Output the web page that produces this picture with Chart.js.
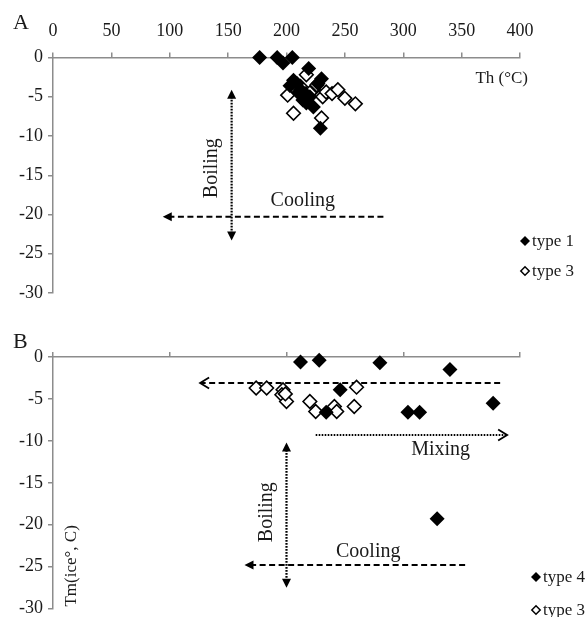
<!DOCTYPE html>
<html>
<head>
<meta charset="utf-8">
<script src="https://cdn.jsdelivr.net/npm/chart.js@4.4.1/dist/chart.umd.min.js"></script>
<style>
  body { margin: 0; background: #fff; }
  #wrap { position: relative; width: 587px; height: 617px; }
  canvas { position: absolute; left: 0; }
</style>
</head>
<body>
<div id="wrap">
  <canvas id="chartA" width="587" height="304" style="top:0"></canvas>
  <canvas id="chartB" width="587" height="313" style="top:304px"></canvas>
</div>
<script>
// Panel A: Th (°C) vs Tm(ice)
const aType1Th = [177, 192, 197, 205, 206, 203, 209, 212, 214, 217, 220, 223, 227, 219, 230, 229, 216, 210];
const aType1Tm = [0, 0, -0.7, 0, -2.9, -3.6, -3.3, -4.1, -5.4, -5.8, -5.0, -6.3, -3.3, -1.4, -2.7, -9.0, -4.6, -4.5];
const aType3Th = [201, 206, 212, 217, 223, 226, 231, 234, 239, 244, 250, 259, 230, 220];
const aType3Tm = [-4.8, -7.1, -3.7, -2.2, -4.1, -3.5, -5.0, -4.4, -4.6, -4.1, -5.2, -5.9, -7.7, -4.5];

// Panel B
const bType4Th = [212, 228, 280, 340, 246, 234, 304, 314, 377, 329];
const bType4Tm = [-0.6, -0.4, -0.7, -1.5, -3.9, -6.6, -6.6, -6.6, -5.5, -19.3];
const bType3Th = [174, 183, 197, 196, 200, 220, 225, 241, 243, 260, 258, 199];
const bType3Tm = [-3.7, -3.7, -3.9, -4.5, -5.3, -5.3, -6.5, -5.9, -6.5, -3.6, -5.9, -4.4];

const thTicksA = [0, 50, 100, 150, 200, 250, 300, 350, 400];
const thTicksB = [0, 100, 200, 300, 400];
const tmTicks = [0, -5, -10, -15, -20, -25, -30];

const FONT = '"Liberation Serif", "Times New Roman", serif';
const GREY = '#8c8c8c';
const INK = '#1a1a1a';

const pts = (xs, ys) => xs.map((x, i) => ({ x: x, y: ys[i] }));

function filledSet(label, data) {
  return { label, data, pointStyle: 'rectRot', pointRadius: 7.5, backgroundColor: '#000', borderColor: '#000', borderWidth: 0, showLine: false, clip: false };
}
function openSet(label, data) {
  return { label, data, pointStyle: 'rectRot', pointRadius: 6.8, backgroundColor: '#fff', borderColor: '#000', borderWidth: 1.6, showLine: false, clip: false };
}

function arrowHead(ctx, x, y, ang, kind) {
  const len = 9, half = 4.5;
  ctx.save();
  ctx.translate(x, y);
  ctx.rotate(ang);
  ctx.setLineDash([]);
  ctx.beginPath();
  if (kind === 'tri') {
    ctx.moveTo(0, 0); ctx.lineTo(-len, -half); ctx.lineTo(-len, half); ctx.closePath(); ctx.fill();
  } else {
    ctx.lineWidth = 1.8;
    ctx.moveTo(-len, -half - 1); ctx.lineTo(0, 0); ctx.lineTo(-len, half + 1); ctx.stroke();
  }
  ctx.restore();
}

function drawArrow(ctx, sx, sy, a) {
  const x1 = sx.getPixelForValue(a.from[0]), y1 = sy.getPixelForValue(a.from[1]);
  const x2 = sx.getPixelForValue(a.to[0]), y2 = sy.getPixelForValue(a.to[1]);
  const ang = Math.atan2(y2 - y1, x2 - x1);
  const cut = a.head === 'tri' ? 7 : 1;
  ctx.save();
  ctx.strokeStyle = '#000';
  ctx.fillStyle = '#000';
  ctx.lineWidth = a.dash === 'dot' ? 2.2 : 2;
  ctx.setLineDash(a.dash === 'dot' ? [1.6, 1.4] : [6, 3.5]);
  ctx.beginPath();
  const ex = x2 - Math.cos(ang) * cut, ey = y2 - Math.sin(ang) * cut;
  let bx = x1, by = y1;
  if (a.both) { bx = x1 + Math.cos(ang) * cut; by = y1 + Math.sin(ang) * cut; }
  ctx.moveTo(bx, by);
  ctx.lineTo(ex, ey);
  ctx.stroke();
  arrowHead(ctx, x2, y2, ang, a.head);
  if (a.both) arrowHead(ctx, x1, y1, ang + Math.PI, a.head);
  ctx.restore();
}

function panelPlugin(spec) {
  return {
    id: 'panel' + spec.letter,
    beforeDatasetsDraw(chart) {
      const { ctx, scales: { x, y } } = chart;
      spec.arrows.forEach(a => drawArrow(ctx, x, y, a));
    },
    afterDatasetsDraw(chart) {
      const { ctx, chartArea, scales: { x, y } } = chart;
      ctx.save();
      ctx.fillStyle = INK;
      // panel letter
      ctx.font = '22px ' + FONT;
      ctx.textAlign = 'left';
      ctx.textBaseline = 'middle';
      ctx.fillText(spec.letter, 13, spec.letterY);
      // free labels in data space
      spec.labels.forEach(l => {
        ctx.save();
        ctx.font = l.size + 'px ' + FONT;
        ctx.textAlign = 'center';
        ctx.textBaseline = 'middle';
        ctx.translate(x.getPixelForValue(l.at[0]), y.getPixelForValue(l.at[1]));
        if (l.rotate) ctx.rotate(-Math.PI / 2);
        ctx.fillText(l.text, 0, 0);
        ctx.restore();
      });
      if (spec.axisTitle) {
        ctx.font = '17px ' + FONT;
        ctx.textAlign = 'right';
        ctx.fillText(spec.axisTitle, chartArea.right + 8, chartArea.top + 21);
      }
      // legend
      ctx.font = '17px ' + FONT;
      ctx.textAlign = 'left';
      spec.legend.forEach((item, i) => {
        const cy = spec.legendY[i];
        const cx = spec.legendX;
        ctx.beginPath();
        const r = item.filled ? 5 : 4.2;
        ctx.moveTo(cx - r, cy); ctx.lineTo(cx, cy - r); ctx.lineTo(cx + r, cy); ctx.lineTo(cx, cy + r); ctx.closePath();
        if (item.filled) { ctx.fillStyle = '#000'; ctx.fill(); }
        else { ctx.fillStyle = '#fff'; ctx.fill(); ctx.lineWidth = 1.5; ctx.strokeStyle = '#000'; ctx.stroke(); }
        ctx.fillStyle = INK;
        ctx.fillText(item.text, cx + 7, cy + 1);
      });
      ctx.restore();
    }
  };
}

function panelOptions(p) {
  const tickFont = { family: FONT, size: 18 };
  return {
    responsive: false,
    animation: false,
    layout: { padding: { left: 0, right: 67, top: 0, bottom: p.bottom } },
    plugins: { legend: { display: false }, tooltip: { enabled: false } },
    scales: {
      x: {
        type: 'linear', position: 'top', min: 0, max: 400,
        afterBuildTicks: s => { s.ticks = p.xTicks.map(v => ({ value: v })); },
        ticks: { display: p.xLabels, color: INK, font: tickFont, padding: 10, maxRotation: 0 },
        grid: { drawOnChartArea: false, drawTicks: true, tickLength: 5, color: GREY, lineWidth: 1.5 },
        border: { color: GREY, width: 1.5 },
        afterFit: s => { s.height = p.top; s.paddingLeft = 0; s.paddingRight = 0; }
      },
      y: {
        type: 'linear', min: -30, max: 0,
        afterBuildTicks: s => { s.ticks = tmTicks.map(v => ({ value: v })); },
        ticks: { color: INK, font: tickFont, padding: 5 },
        grid: { drawOnChartArea: false, drawTicks: true, tickLength: 5, color: GREY, lineWidth: 1.5 },
        border: { color: GREY, width: 1.5 },
        afterFit: s => { s.width = 53; s.paddingTop = 0; s.paddingBottom = 0; }
      }
    }
  };
}

new Chart(document.getElementById('chartA'), {
  type: 'scatter',
  data: { datasets: [filledSet('type 1', pts(aType1Th, aType1Tm)), openSet('type 3', pts(aType3Th, aType3Tm))] },
  options: panelOptions({ top: 57.5, bottom: 11, xTicks: thTicksA, xLabels: true }),
  plugins: [panelPlugin({
    letter: 'A', letterY: 23,
    axisTitle: 'Th (°C)',
    arrows: [
      { from: [153, -23.3], to: [153, -4.1], dash: 'dot', head: 'tri', both: true },
      { from: [283, -20.3], to: [94, -20.3], dash: 'dash', head: 'tri' }
    ],
    labels: [
      { text: 'Boiling', at: [136, -14.1], size: 20, rotate: true },
      { text: 'Cooling', at: [214, -18.2], size: 20 }
    ],
    legend: [{ text: 'type 1', filled: true }, { text: 'type 3', filled: false }],
    legendX: 525, legendY: [241, 271]
  })]
});

new Chart(document.getElementById('chartB'), {
  type: 'scatter',
  data: { datasets: [filledSet('type 4', pts(bType4Th, bType4Tm)), openSet('type 3', pts(bType3Th, bType3Tm))] },
  options: panelOptions({ top: 53, bottom: 8, xTicks: thTicksB, xLabels: false }),
  plugins: [panelPlugin({
    letter: 'B', letterY: 38,
    arrows: [
      { from: [383, -3.1], to: [126, -3.1], dash: 'dash', head: 'open' },
      { from: [225, -9.3], to: [389, -9.3], dash: 'dot', head: 'open' },
      { from: [200, -27.5], to: [200, -10.2], dash: 'dot', head: 'tri', both: true },
      { from: [353, -24.8], to: [164, -24.8], dash: 'dash', head: 'tri' }
    ],
    labels: [
      { text: 'Mixing', at: [332, -11.1], size: 20 },
      { text: 'Boiling', at: [183, -18.5], size: 20, rotate: true },
      { text: 'Cooling', at: [270, -23.2], size: 20 },
      { text: 'Tm(ice°, C)', at: [16, -24.9], size: 17, rotate: true }
    ],
    legend: [{ text: 'type 4', filled: true }, { text: 'type 3', filled: false }],
    legendX: 536, legendY: [273, 306]
  })]
});
</script>
</body>
</html>
